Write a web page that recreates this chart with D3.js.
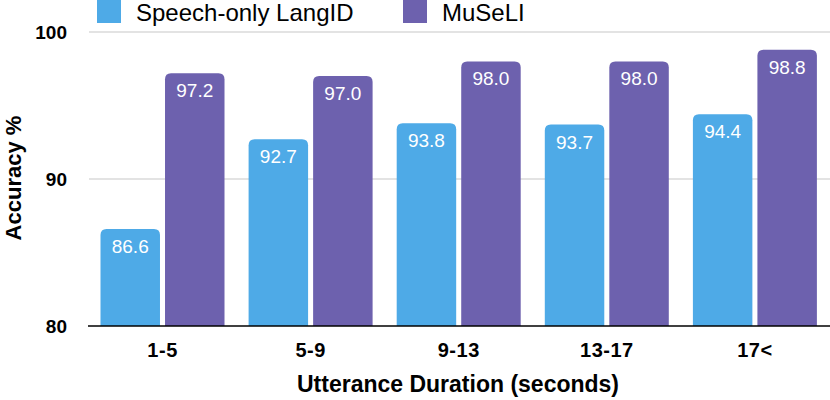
<!DOCTYPE html>
<html>
<head>
<meta charset="utf-8">
<script src="https://cdn.jsdelivr.net/npm/d3@7"></script>
<style>
  body { margin: 0; background: #fff; }
  text { font-family: "Liberation Sans", Arial, Helvetica, sans-serif; }
</style>
</head>
<body>
<div id="chart"></div>
<script>
const categories = ['1-5', '5-9', '9-13', '13-17', '17<'];
const seriesNames = ['Speech-only LangID', 'MuSeLI'];
const speechOnly = [86.6, 92.7, 93.8, 93.7, 94.4];
const museli = [97.2, 97.0, 98.0, 98.0, 98.8];
const yTicks = [80, 90, 100];

(function () {

    const width = 830, height = 400;
    const colors = ['#4eaae7', '#6d61ae'];

    const svg = d3.select('#chart')
        .append('svg')
        .attr('width', width)
        .attr('height', height);

    const y = d3.scaleLinear().domain([80, 100]).range([326, 32]);

    const x0 = d3.scaleBand().domain(categories).range([88.5, 829]);
    const x1 = d3.scaleBand().domain(seriesNames).range([12, 136]).paddingInner(0.078);

    // grid
    svg.append('g')
        .selectAll('line')
        .data(yTicks.filter(d => d > 80))
        .join('line')
        .attr('x1', 89).attr('x2', 830)
        .attr('y1', d => y(d)).attr('y2', d => y(d))
        .attr('stroke', '#c8c8c8')
        .attr('stroke-width', 1.2);

    // y tick labels
    svg.append('g')
        .selectAll('text')
        .data(yTicks)
        .join('text')
        .attr('x', 67)
        .attr('y', d => y(d) + 7)
        .attr('text-anchor', 'end')
        .attr('font-size', 19)
        .attr('font-weight', 'bold')
        .text(d => d);

    const rows = [];
    categories.forEach((c, i) => {
        rows.push({ cat: c, key: seriesNames[0], value: speechOnly[i], color: colors[0] });
        rows.push({ cat: c, key: seriesNames[1], value: museli[i], color: colors[1] });
    });

    function topRounded(x, yTop, w, yBot, r) {
        return `M${x},${yBot} V${yTop + r} Q${x},${yTop} ${x + r},${yTop} H${x + w - r} Q${x + w},${yTop} ${x + w},${yTop + r} V${yBot} Z`;
    }

    const bars = svg.append('g');
    bars.selectAll('path')
        .data(rows)
        .join('path')
        .attr('fill', d => d.color)
        .attr('d', d => topRounded(x0(d.cat) + x1(d.key), y(d.value), x1.bandwidth(), y(80), 6));

    bars.selectAll('text')
        .data(rows)
        .join('text')
        .attr('x', d => x0(d.cat) + x1(d.key) + x1.bandwidth() / 2)
        .attr('y', d => y(d.value) + 24)
        .attr('text-anchor', 'middle')
        .attr('fill', '#fff')
        .attr('font-size', 19)
        .text(d => d.value.toFixed(1));

    // baseline
    svg.append('line')
        .attr('x1', 88).attr('x2', 830)
        .attr('y1', y(80)).attr('y2', y(80))
        .attr('stroke', '#000')
        .attr('stroke-width', 1.5);

    // x labels
    svg.append('g')
        .selectAll('text')
        .data(categories)
        .join('text')
        .attr('x', d => x0(d) + x0.bandwidth() / 2)
        .attr('y', 357)
        .attr('text-anchor', 'middle')
        .attr('font-size', 20)
        .attr('letter-spacing', 0.5)
        .attr('font-weight', 'bold')
        .text(d => d);

    svg.append('text')
        .attr('x', 458)
        .attr('y', 392)
        .attr('text-anchor', 'middle')
        .attr('font-size', 23)
        .attr('font-weight', 'bold')
        .text('Utterance Duration (seconds)');

    svg.append('text')
        .attr('transform', 'translate(21,178) rotate(-90)')
        .attr('text-anchor', 'middle')
        .attr('font-size', 22)
        .attr('font-weight', 'bold')
        .text('Accuracy %');

    // legend
    const legendX = [97, 403];
    const legend = svg.append('g')
        .selectAll('g')
        .data(seriesNames)
        .join('g')
        .attr('transform', (d, i) => `translate(${legendX[i]},0)`);

    legend.append('rect')
        .attr('width', 24).attr('height', 23)
        .attr('fill', (d, i) => colors[i]);

    legend.append('text')
        .attr('x', 39)
        .attr('y', 21)
        .attr('font-size', 24)
        .text(d => d);

})();
</script>
</body>
</html>
